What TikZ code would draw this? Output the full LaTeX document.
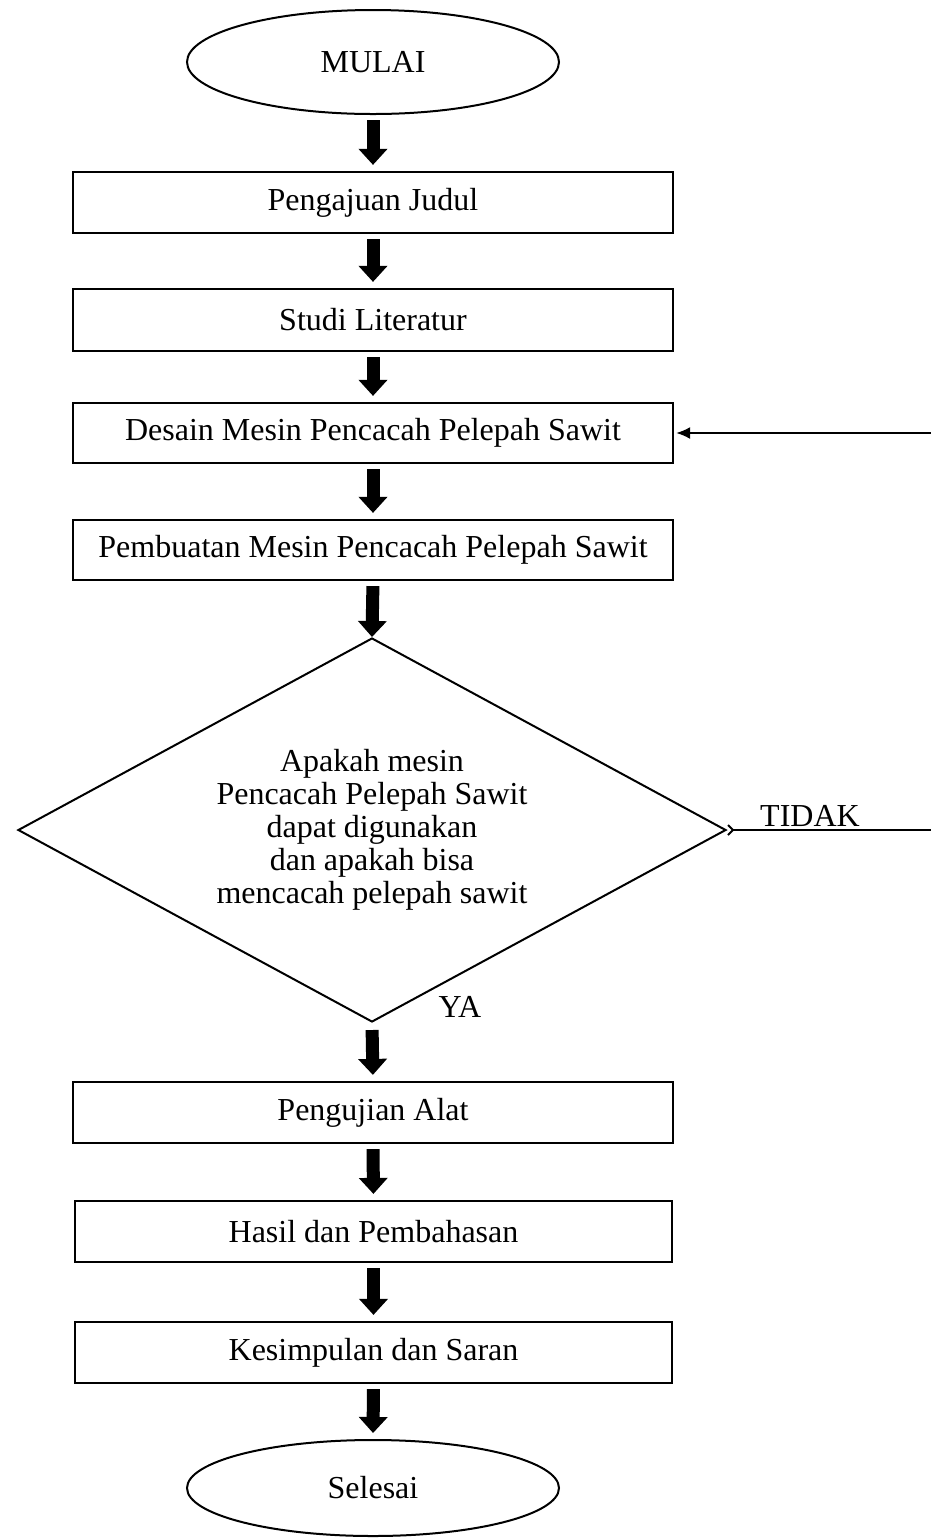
\documentclass[tikz,border=0pt]{standalone}
\usepackage{fontspec}
\setmainfont{Liberation Serif}
\usetikzlibrary{shapes.geometric,arrows.meta}

\tikzset{
    proses/.style={draw, line width=1.1pt, rectangle, minimum width=300pt, minimum height=30.5pt, inner sep=0pt},
    terminal/.style={draw, line width=1pt, ellipse, minimum width=186pt, inner sep=0pt},
    keputusan/.style={draw, line width=1pt, diamond, aspect=1.84, minimum width=354pt, minimum height=192pt, inner sep=0pt, align=center},
    panah/.style={line width=6.5pt, -{Triangle[length=8pt,width=14pt]}, shorten <=2.5pt, shorten >=3pt},
}

\begin{document}
\begin{tikzpicture}[x=0.5pt, y=-0.5pt, font=\fontsize{16}{16.5}\selectfont]
    \useasboundingbox (0,0) rectangle (931,1539);
    % Mulai dan proses awal
    \node[terminal, minimum height=52pt] (mulai) at (373,62) {MULAI};
    \node[proses] (judul) at (373,202.5) {Pengajuan Judul};
    \node[proses, minimum height=31pt] (studi) at (373,320) {Studi Literatur};
    \node[proses, minimum height=30pt] (desain) at (373,433) {Desain Mesin Pencacah Pelepah Sawit};
    \node[proses, minimum height=30pt] (buat) at (373,550) {Pembuatan Mesin Pencacah Pelepah Sawit};
    % Keputusan
    \node[keputusan] (cek) at (372,830) {Apakah mesin\\Pencacah Pelepah Sawit\\dapat digunakan\\dan apakah bisa\\mencacah pelepah sawit};
    \node[anchor=base] (tidak) at (810,826) {TIDAK};
    \node[anchor=base] (ya) at (460,1017) {YA};
    % Proses akhir
    \node[proses] (uji) at (373,1112.5) {Pengujian Alat};
    \node[proses, minimum width=298.5pt] (hasil) at (373.5,1231.5) {Hasil dan Pembahasan};
    \node[proses, minimum width=298.5pt] (simpul) at (373.5,1352.5) {Kesimpulan dan Saran};
    \node[terminal, minimum height=48pt] (selesai) at (373,1488) {Selesai};
    % Panah utama
    \draw[panah] (mulai.south) -- (judul.north);
    \draw[panah] (judul.south) -- (studi.north);
    \draw[panah] (studi.south) -- (desain.north);
    \draw[panah] (desain.south) -- (buat.north);
    \draw[panah, shorten >=0pt] (buat.south) -- (cek.north);
    \draw[panah, shorten <=3.5pt] (cek.south) -- (uji.north);
    \draw[panah] (uji.south) -- (hasil.north);
    \draw[panah] (hasil.south) -- (simpul.north);
    \draw[panah] (simpul.south) -- (selesai.north);
    % Kembali ke desain
    \coordinate (kanan1) at (931,830);
    \coordinate (kanan2) at (931,433);
    \draw[line width=1pt, {Straight Barb[reversed,length=2.5pt,width=5pt]}-] (cek.east) -- (kanan1);
    \draw[line width=1pt, -{Latex[length=7pt,width=6pt]}] (kanan2) -- ([xshift=1pt]desain.east);
\end{tikzpicture}
\end{document}
